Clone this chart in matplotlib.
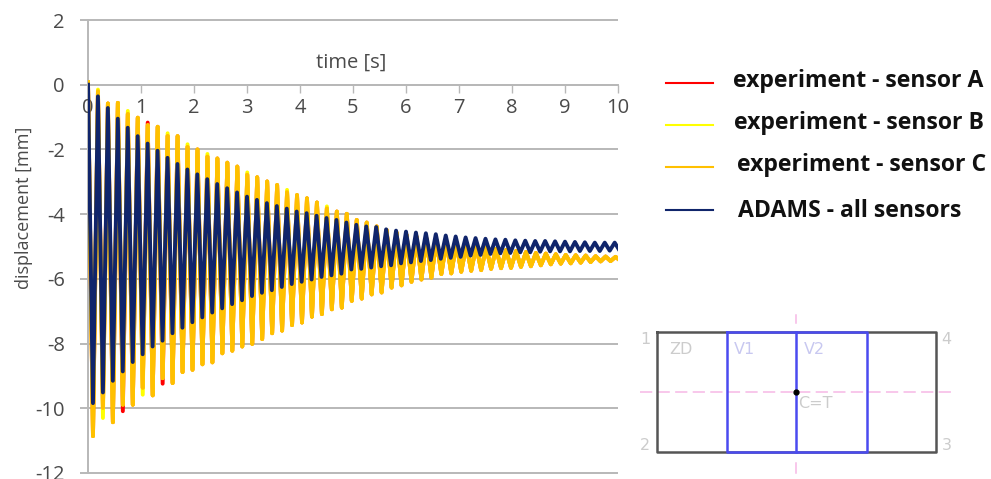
import numpy as np
import matplotlib
matplotlib.use("Agg")
import matplotlib.pyplot as plt

# extremes, one value per swing [mm]
sensor_c_peaks = [0.08, -0.20, -0.58, -0.56, -0.90, -1.02, -1.25, -1.30, -1.58, -1.59, -1.92, -2.00, -2.22, -2.28,
                  -2.41, -2.53, -2.78, -2.86, -2.99, -3.10, -3.32, -3.41, -3.51, -3.64, -3.82, -3.92, -3.99,
                  -4.18, -4.26, -4.38, -4.49, -4.57, -4.64, -4.69, -4.75, -4.80, -4.85, -4.90, -4.95, -4.98,
                  -5.03, -5.07, -5.11, -5.14, -5.17, -5.20, -5.22, -5.24, -5.26, -5.27, -5.28, -5.30, -5.31, -5.32]
sensor_c_troughs = [-10.86, -9.99, -10.43, -9.89, -9.89, -9.37, -9.60, -9.07, -9.22, -8.88, -8.81, -8.64, -8.58,
                    -8.30, -8.22, -8.09, -8.01, -7.86, -7.68, -7.60, -7.43, -7.35, -7.17, -7.09, -6.94, -6.89,
                    -6.68, -6.61, -6.48, -6.42, -6.27, -6.20, -6.09, -6.02, -5.96, -5.85, -5.83, -5.78, -5.75,
                    -5.73, -5.69, -5.67, -5.66, -5.63, -5.61, -5.58, -5.55, -5.53, -5.52, -5.50, -5.48, -5.46,
                    -5.45, -5.44]
adams_peaks = [0.0, -0.36, -0.72, -1.05, -1.33, -1.59, -1.82, -2.04, -2.26, -2.45, -2.62, -2.77, -2.92, -3.07,
               -3.20, -3.33, -3.46, -3.56, -3.66, -3.75, -3.83, -3.92, -3.97, -4.05, -4.12, -4.18,
               -4.26, -4.33, -4.38, -4.40, -4.47, -4.51, -4.54, -4.57, -4.59, -4.62, -4.66, -4.69, -4.72, -4.74,
               -4.76, -4.78, -4.79, -4.81, -4.82, -4.83, -4.83, -4.84, -4.85, -4.86, -4.87, -4.88, -4.88, -4.88]
adams_troughs = [-9.84, -9.51, -9.15, -8.86, -8.57, -8.33, -8.09, -7.91, -7.68, -7.51, -7.34, -7.19, -7.04, -6.91,
                 -6.78, -6.66, -6.53, -6.43, -6.35, -6.25, -6.16, -6.09, -6.02, -5.94, -5.89, -5.84,
                 -5.71, -5.69, -5.65, -5.61, -5.58, -5.52, -5.49, -5.45, -5.42, -5.38, -5.35, -5.32, -5.28, -5.26,
                 -5.23, -5.21, -5.20, -5.18, -5.18, -5.16, -5.15, -5.15, -5.15, -5.14, -5.14, -5.14, -5.13, -5.13]

# sensors A and B only show where their tips stick out of sensor C
sensor_a_peak_tips = {6: -1.17}
sensor_a_trough_tips = {3: -10.09, 7: -9.24}
sensor_b_peak_tips = {1: -0.15, 4: -0.81, 8: -1.50, 10: -1.84, 12: -2.14, 16: -2.71, 20: -3.25, 24: -3.76}
sensor_b_trough_tips = {1: -10.30, 5: -9.58}

period_c = 0.1878
period_adams = 0.1875
x_ticks = list(range(0, 11))
y_ticks = list(range(-12, 3, 2))
series_labels = ["experiment - sensor A", "experiment - sensor B", "experiment - sensor C", "ADAMS - all sensors"]
series_colors = ["#ff0000", "#ffff00", "#ffc000", "#10256b"]


def zigzag(peaks, troughs, period):
    y = np.empty(len(peaks) + len(troughs))
    y[0::2] = peaks
    y[1::2] = troughs
    return np.arange(len(y)) * period / 2, y


def with_tips(values, tips):
    out = list(values)
    for i, v in tips.items():
        out[i] = v
    return out


plt.rcParams['font.family'] = ['Open Sans', 'DejaVu Sans']
plt.rcParams['axes.unicode_minus'] = False

W, H = 991, 479
fig = plt.figure(figsize=(W / 100, H / 100), dpi=100)
ax = fig.add_axes([88 / W, 1 - 473 / H, 530 / W, 453 / H])

grey = "#b8b8b8"
text_col = "#4a4a4a"
LW = 2.8
ax.hlines(y_ticks, 0, 10, color=grey, lw=1.4, zorder=1, clip_on=False)

t, y = zigzag(with_tips(sensor_c_peaks, sensor_a_peak_tips), with_tips(sensor_c_troughs, sensor_a_trough_tips), period_c)
ax.plot(t, y, color=series_colors[0], lw=LW, zorder=2, solid_joinstyle='round')
t, y = zigzag(with_tips(sensor_c_peaks, sensor_b_peak_tips), with_tips(sensor_c_troughs, sensor_b_trough_tips), period_c)
ax.plot(t, y, color=series_colors[1], lw=LW, zorder=2.1, solid_joinstyle='round')
t, y = zigzag(sensor_c_peaks, sensor_c_troughs, period_c)
ax.plot(t, y, color=series_colors[2], lw=LW, zorder=2.2, solid_joinstyle='round')
t, y = zigzag(adams_peaks, adams_troughs, period_adams)
ax.plot(t, y, color=series_colors[3], lw=LW, zorder=2.3, solid_joinstyle='round')

ax.set_xlim(0, 10)
ax.set_ylim(-12, 2)
ax.set_xticks(x_ticks)
ax.set_yticks(y_ticks)
for s in ['top', 'right']:
    ax.spines[s].set_visible(False)
ax.spines['bottom'].set_position(('data', 0))
for s in ['left', 'bottom']:
    ax.spines[s].set_color(grey)
    ax.spines[s].set_linewidth(1.4)
    ax.spines[s].set_zorder(1)
ax.tick_params(axis='x', direction='out', length=5.8, width=1, color=grey, labelsize=14.5, labelcolor=text_col, pad=4)
ax.tick_params(axis='y', direction='out', length=5.8, width=1.4, color=grey, labelsize=14.5, labelcolor=text_col, pad=11)
ax.patch.set_alpha(0)

# overlay in picture pixels for the axis titles, legend and sketch
ov = fig.add_axes([0, 0, 1, 1])
ov.set_xlim(0, W)
ov.set_ylim(H, 0)
ov.axis('off')
ov.set_zorder(5)

ov.text(351, 63, "time [s]", ha='center', va='center', fontsize=14.5, color=text_col)
ov.text(24, 208, "displacement [mm]", ha='center', va='center', rotation=90, fontsize=13, color=text_col)

legend_line_y = [83, 125, 167, 210]
legend_text_x = [733, 734, 737, 738]
legend_text_y = [81, 123, 165, 211]
for lab, col, ly, tx, ty in zip(series_labels, series_colors, legend_line_y, legend_text_x, legend_text_y):
    ov.plot([666, 713], [ly, ly], color=col, lw=1.5)
    ov.text(tx, ty, lab, ha='left', va='center', fontsize=16.6, fontweight='bold', color="#111111")

# section sketch
pink = "#f6b8e6"
ov.plot([640, 955], [392, 392], color=pink, lw=1.1, ls=(0, (8, 3.5)))
ov.plot([796, 796], [315, 323], color=pink, lw=1.1)
ov.plot([796, 796], [463, 473], color=pink, lw=1.1)
ov.plot([657, 936, 936, 657, 657], [332, 332, 452, 452, 332], color="#555555", lw=1.8)
blue = "#4a4af0"
ov.plot([727, 867, 867, 727, 727], [332, 332, 452, 452, 332], color=blue, lw=1.8)
ov.plot([796, 796], [332, 452], color=blue, lw=1.8)
ov.plot([796], [392], 'o', color='k', ms=3.5)
sketch_col = "#cccccc"
sketch_text = [("1", 645, 340, sketch_col), ("4", 946, 340, sketch_col), ("2", 645, 446, sketch_col),
               ("3", 947, 446, sketch_col), ("ZD", 681, 350, sketch_col), ("V1", 745, 350, "#c8c8f0"),
               ("V2", 814, 350, "#c8c8f0"), ("C=T", 815, 404, sketch_col)]
for s, x, y_, c in sketch_text:
    ov.text(x, y_, s, ha='center', va='center', fontsize=11.5, color=c, family='DejaVu Sans')

fig.savefig("out.png", dpi=100)
